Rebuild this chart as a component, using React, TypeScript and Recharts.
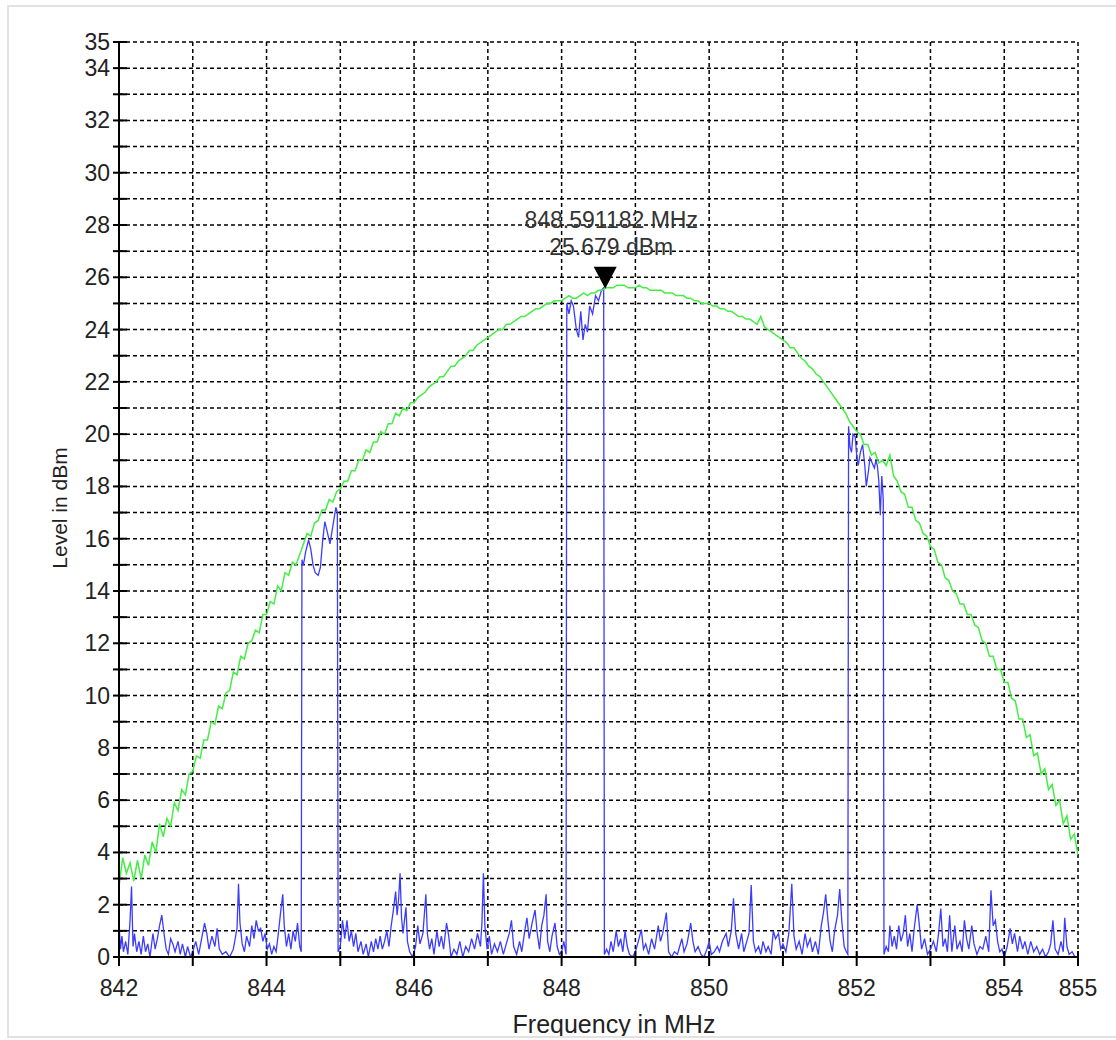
import React from "react";
import { CartesianGrid, Line, LineChart, ReferenceDot, XAxis, YAxis } from "recharts";

// axis ticks (every unit gets a tick + grid line, only some get a label)
const xTicks = [842, 843, 844, 845, 846, 847, 848, 849, 850, 851, 852, 853, 854, 855];
const xLabels = [842, 844, 846, 848, 850, 852, 854, 855];
const yTicks = [0, 1, 2, 3, 4, 5, 6, 7, 8, 9, 10, 11, 12, 13, 14, 15, 16, 17, 18, 19, 20, 21, 22, 23, 24, 25, 26, 27, 28, 29, 30, 31, 32, 33, 34, 35];
const yLabels = [0, 2, 4, 6, 8, 10, 12, 14, 16, 18, 20, 22, 24, 26, 28, 30, 32, 34, 35];

// max-hold trace (green), sampled every 0.05 MHz from 842 MHz (one row per MHz)
const GREEN_START = 842;
const GREEN_STEP = 0.05;
const greenLevel = [
  2.7, 3.8, 3.2, 3.6, 2.9, 3.7, 3.0, 3.9, 3.5, 4.4, 4.0, 5.1, 4.6, 5.3, 5.0, 5.9, 5.6, 6.4, 6.2, 7.0,
  7.1, 7.7, 7.6, 8.3, 8.3, 9.0, 8.9, 9.6, 9.5, 10.1, 10.2, 10.9, 10.8, 11.5, 11.4, 12.0, 12.1, 12.5, 12.4, 13.1,
  13.1, 13.6, 13.5, 14.2, 14.0, 14.7, 14.6, 15.1, 15.0, 15.4, 15.8, 16.2, 16.1, 16.6, 16.7, 17.1, 17.1, 17.5, 17.4, 17.8,
  17.9, 18.2, 18.2, 18.6, 18.6, 19.0, 19.0, 19.4, 19.3, 19.7, 19.7, 20.1, 20.0, 20.4, 20.4, 20.8, 20.7, 21.0, 20.9, 21.2,
  21.2, 21.4, 21.5, 21.6, 21.8, 21.9, 22.0, 22.2, 22.2, 22.4, 22.6, 22.6, 22.8, 22.9, 23.0, 23.2, 23.2, 23.4, 23.5, 23.6,
  23.7, 23.8, 23.9, 24.0, 24.0, 24.2, 24.2, 24.3, 24.4, 24.5, 24.5, 24.6, 24.7, 24.8, 24.8, 24.9, 25.0, 25.0, 25.1, 25.1,
  25.1, 25.2, 25.3, 25.2, 25.2, 25.3, 25.4, 25.3, 25.4, 25.4, 25.5, 25.5, 25.6, 25.6, 25.6, 25.7, 25.7, 25.7, 25.6, 25.6,
  25.6, 25.7, 25.6, 25.6, 25.5, 25.5, 25.5, 25.5, 25.4, 25.4, 25.4, 25.3, 25.3, 25.3, 25.2, 25.2, 25.1, 25.1, 25.0, 25.0,
  25.0, 24.9, 24.9, 24.8, 24.8, 24.7, 24.7, 24.6, 24.5, 24.5, 24.4, 24.4, 24.3, 24.2, 24.5, 24.1, 24.0, 23.9, 23.8, 23.7,
  23.6, 23.5, 23.3, 23.3, 23.1, 22.9, 22.8, 22.6, 22.5, 22.3, 22.2, 22.0, 21.8, 21.6, 21.4, 21.2, 21.0, 20.8, 20.5, 20.3,
  20.1, 20.0, 19.6, 19.6, 19.2, 19.3, 18.9, 19.0, 18.8, 19.2, 18.4, 18.2, 17.8, 17.7, 17.2, 17.2, 16.7, 16.6, 16.2, 16.1,
  15.7, 15.6, 15.1, 15.0, 14.5, 14.4, 14.0, 13.9, 13.5, 13.5, 13.1, 13.1, 12.7, 12.6, 12.1, 12.0, 11.5, 11.5, 11.0, 11.0,
  10.5, 10.5, 9.9, 9.8, 9.1, 9.1, 8.4, 8.5, 7.7, 7.8, 7.0, 7.2, 6.4, 6.6, 5.8, 6.0, 5.1, 5.4, 4.5, 4.7,
  3.9,
];

// clear-write trace (blue): [MHz, dBm]
const noise1: [number, number][] = [
  [842.0, 1.3], [842.02, 0.3], [842.04, 0.8], [842.06, 0.2], [842.09, 0.6], [842.12, 0.1], [842.15, 1.4], [842.17, 2.7],
  [842.19, 0.4], [842.21, 0.9], [842.24, 0.2], [842.27, 0.6], [842.3, 0.1], [842.33, 0.8], [842.36, 0.2], [842.39, 0.5],
  [842.42, 0.0], [842.46, 0.9], [842.49, 0.3], [842.52, 0.7], [842.55, 1.2], [842.58, 1.6], [842.61, 0.9], [842.64, 0.3],
  [842.67, 0.1], [842.7, 0.7], [842.73, 0.5], [842.76, 0.2], [842.8, 0.6], [842.83, 0.1], [842.86, 0.5], [842.9, 0.0],
  [842.93, 0.4], [842.97, 0.0], [843.0, 0.2], [843.04, 0.6], [843.08, 0.1], [843.12, 0.7], [843.16, 1.3], [843.19, 0.9],
  [843.22, 0.3], [843.26, 0.8], [843.3, 0.4], [843.33, 1.1], [843.36, 0.3], [843.4, 0.1], [843.45, 0.2], [843.5, 0.0],
  [843.55, 0.3], [843.6, 1.1], [843.62, 2.8], [843.64, 1.3], [843.67, 0.5], [843.7, 0.2], [843.73, 0.8], [843.77, 0.4],
  [843.8, 1.2], [843.83, 0.7], [843.86, 1.4], [843.89, 1.0], [843.92, 1.1], [843.95, 0.6], [843.98, 0.9], [844.01, 0.3],
  [844.04, 0.5], [844.07, 0.1], [844.1, 0.4], [844.13, 0.2], [844.16, 0.9], [844.19, 1.7], [844.22, 2.4], [844.24, 1.2],
  [844.27, 0.4], [844.3, 0.9], [844.33, 0.3], [844.36, 1.0], [844.39, 0.6], [844.42, 1.3], [844.45, 0.4], [844.47, 0.2],
];
const carrier1: [number, number][] = [
  [844.48, 15.2], [844.5, 15.0], [844.53, 15.5], [844.57, 15.95], [844.6, 15.6], [844.63, 15.0], [844.66, 14.7],
  [844.7, 14.6], [844.73, 14.9], [844.76, 15.9], [844.79, 16.65], [844.82, 16.3], [844.86, 15.8], [844.9, 16.5],
  [844.94, 17.2], [844.96, 17.0],
];
const noise2: [number, number][] = [
  [844.97, 0.2], [845.0, 0.4], [845.03, 1.4], [845.06, 0.7], [845.09, 1.4], [845.12, 0.6], [845.15, 1.0], [845.18, 0.4],
  [845.21, 0.9], [845.24, 0.2], [845.28, 0.6], [845.31, 0.1], [845.35, 0.5], [845.38, 0.0], [845.42, 0.6], [845.45, 0.2],
  [845.48, 0.7], [845.51, 0.3], [845.54, 0.8], [845.57, 0.3], [845.6, 0.6], [845.63, 1.0], [845.66, 0.4], [845.69, 1.2],
  [845.72, 1.8], [845.75, 2.5], [845.77, 1.6], [845.79, 2.2], [845.81, 3.2], [845.83, 1.5], [845.85, 0.9], [845.87, 1.4],
  [845.89, 1.9], [845.91, 0.6], [845.94, 0.2], [845.98, 0.0], [846.02, 0.4], [846.05, 1.2], [846.08, 0.5], [846.12, 0.9],
  [846.16, 2.4], [846.18, 0.9], [846.21, 0.3], [846.24, 0.7], [846.27, 0.1], [846.31, 1.0], [846.34, 0.4], [846.37, 0.8],
  [846.4, 0.3], [846.44, 1.3], [846.47, 0.8], [846.5, 0.0], [846.54, 0.3], [846.58, 0.1], [846.62, 0.6], [846.66, 0.0],
  [846.7, 0.4], [846.74, 0.2], [846.78, 0.7], [846.82, 0.3], [846.86, 0.9], [846.9, 0.4], [846.92, 1.3], [846.94, 3.2],
  [846.96, 1.2], [846.99, 0.3], [847.02, 0.8], [847.05, 0.1], [847.09, 0.5], [847.13, 0.2], [847.17, 0.6], [847.21, 0.1],
  [847.25, 0.5], [847.29, 0.9], [847.32, 1.4], [847.35, 0.4], [847.39, 0.1], [847.43, 0.6], [847.46, 0.2], [847.5, 1.0],
  [847.53, 1.5], [847.56, 0.7], [847.6, 1.3], [847.64, 1.8], [847.67, 0.9], [847.7, 0.3], [847.73, 1.2], [847.76, 1.6],
  [847.79, 2.4], [847.81, 0.6], [847.84, 0.2], [847.87, 0.8], [847.91, 1.3], [847.94, 0.4], [847.97, 0.1], [848.0, 0.2],
  [848.03, 0.6], [848.06, 0.1],
];
const carrier2: [number, number][] = [
  [848.07, 25.0], [848.1, 24.6], [848.13, 25.1], [848.16, 24.9], [848.2, 24.0], [848.23, 23.7], [848.26, 24.7],
  [848.29, 23.6], [848.32, 24.2], [848.35, 23.9], [848.38, 24.9], [848.42, 24.6], [848.46, 25.3], [848.5, 25.1],
  [848.54, 25.5], [848.57, 25.6],
];
const noise3: [number, number][] = [
  [848.58, 0.1], [848.61, 0.3], [848.64, 0.1], [848.67, 0.6], [848.7, 0.2], [848.74, 1.0], [848.77, 0.4], [848.8, 0.7],
  [848.83, 0.2], [848.86, 1.0], [848.89, 0.4], [848.92, 0.1], [848.96, 0.0], [849.0, 0.2], [849.04, 0.6], [849.08, 1.05],
  [849.11, 0.3], [849.14, 0.5], [849.18, 0.1], [849.22, 0.7], [849.26, 0.3], [849.31, 1.2], [849.34, 0.6], [849.37, 0.9],
  [849.42, 1.7], [849.45, 0.2], [849.49, 0.0], [849.53, 0.2], [849.57, 0.1], [849.6, 0.4], [849.63, 0.7], [849.66, 0.2],
  [849.7, 0.5], [849.75, 1.3], [849.78, 0.6], [849.81, 0.2], [849.85, 0.4], [849.89, 0.1], [849.93, 0.0], [849.97, 0.3],
  [850.0, 0.6], [850.03, 0.1], [850.07, 0.2], [850.11, 0.4], [850.14, 0.2], [850.18, 0.6], [850.23, 0.9], [850.26, 0.4],
  [850.3, 1.0], [850.33, 2.25], [850.36, 0.9], [850.4, 0.3], [850.44, 0.9], [850.47, 0.2], [850.51, 0.6], [850.54, 0.9],
  [850.57, 2.75], [850.6, 0.6], [850.63, 0.2], [850.67, 0.4], [850.7, 0.1], [850.73, 0.6], [850.77, 0.2], [850.8, 0.4],
  [850.84, 0.1], [850.87, 1.0], [850.9, 0.7], [850.94, 0.9], [850.97, 0.3], [851.0, 0.5], [851.04, 0.2], [851.08, 0.9],
  [851.12, 2.8], [851.15, 0.8], [851.18, 0.3], [851.22, 0.6], [851.26, 0.1], [851.3, 0.9], [851.33, 0.4], [851.37, 0.7],
  [851.4, 0.2], [851.44, 0.6], [851.48, 0.1], [851.52, 1.2], [851.55, 1.7], [851.58, 2.4], [851.61, 1.4], [851.64, 0.6],
  [851.67, 0.2], [851.7, 1.0], [851.74, 1.6], [851.77, 2.6], [851.8, 1.3], [851.83, 0.4], [851.86, 0.2], [851.88, 0.1],
];
const carrier3: [number, number][] = [
  [851.89, 20.3], [851.91, 19.5], [851.93, 19.3], [851.95, 20.0], [851.98, 19.9], [852.0, 19.2], [852.02, 18.8],
  [852.05, 19.3], [852.08, 19.6], [852.11, 18.8], [852.13, 18.0], [852.16, 18.6], [852.18, 19.1], [852.21, 18.9],
  [852.24, 18.7], [852.26, 19.0], [852.28, 18.8], [852.3, 18.2], [852.32, 16.9], [852.34, 18.4], [852.36, 17.5],
];
const noise4: [number, number][] = [
  [852.37, 0.1], [852.4, 0.4], [852.43, 0.2], [852.45, 1.2], [852.48, 0.4], [852.51, 0.8], [852.54, 0.3], [852.57, 1.2],
  [852.6, 0.6], [852.63, 0.9], [852.66, 1.6], [852.69, 0.4], [852.72, 0.9], [852.75, 0.2], [852.78, 1.1], [852.82, 2.0],
  [852.85, 1.2], [852.88, 0.3], [852.92, 0.7], [852.96, 0.1], [853.0, 0.3], [853.04, 0.6], [853.08, 0.2], [853.11, 0.9],
  [853.14, 1.85], [853.17, 0.4], [853.2, 0.7], [853.23, 0.2], [853.26, 1.6], [853.29, 0.2], [853.33, 1.2], [853.36, 0.3],
  [853.4, 0.6], [853.43, 0.2], [853.46, 1.4], [853.49, 0.7], [853.52, 0.3], [853.56, 1.2], [853.59, 0.5], [853.63, 0.1],
  [853.67, 0.4], [853.71, 0.3], [853.75, 0.8], [853.79, 0.2], [853.82, 2.55], [853.85, 1.2], [853.88, 1.4], [853.91, 0.6],
  [853.94, 0.2], [853.97, 0.3], [854.0, 0.0], [854.04, 0.4], [854.08, 1.1], [854.11, 0.5], [854.14, 0.9], [854.18, 0.2],
  [854.21, 0.8], [854.25, 0.3], [854.28, 0.6], [854.32, 0.1], [854.36, 0.6], [854.4, 0.2], [854.44, 0.4], [854.48, 0.1],
  [854.52, 0.3], [854.56, 0.0], [854.6, 0.2], [854.63, 0.5], [854.66, 1.4], [854.69, 0.3], [854.73, 0.1], [854.77, 0.6],
  [854.8, 0.2], [854.82, 1.5], [854.85, 0.4], [854.88, 0.1], [854.92, 0.2], [854.96, 0.0], [855.0, 0.0],
];

const markerFreq = 848.591182;
const markerLevel = 25.679;

const FONT = '"Liberation Sans", Arial, sans-serif';

const greenData = greenLevel.map((v, i) => ({ f: +(GREEN_START + i * GREEN_STEP).toFixed(2), v }));
const blueData = [...noise1, ...carrier1, ...noise2, ...carrier2, ...noise3, ...carrier3, ...noise4].map(([f, v]) => ({ f, v }));

function YTick({ x, y, payload }: any) {
  const v = payload.value;
  return (
    <g>
      <line x1={x - 6} x2={x + 8} y1={y} y2={y} stroke="#000" strokeWidth={2} />
      {yLabels.includes(v) && (
        <text x={x - 9} y={y + 8} textAnchor="end" fontSize={23} fill="#222" fontFamily={FONT}>
          {v}
        </text>
      )}
    </g>
  );
}

function XTick({ x, y, payload }: any) {
  const v = payload.value;
  return (
    <g>
      <line x1={x} x2={x} y1={y - 6} y2={y + 9} stroke="#000" strokeWidth={2} />
      {xLabels.includes(v) && (
        <text x={x} y={y + 39} textAnchor="middle" fontSize={23} fill="#222" fontFamily={FONT}>
          {v}
        </text>
      )}
    </g>
  );
}

function Marker({ cx, cy }: any) {
  return (
    <g>
      <text x={cx + 6} y={cy - 58} textAnchor="middle" fontSize={23} fill="#333" fontFamily={FONT}>
        {markerFreq.toFixed(6)} MHz
      </text>
      <text x={cx + 6} y={cy - 31} textAnchor="middle" fontSize={23} fill="#333" fontFamily={FONT}>
        {markerLevel.toFixed(3)} dBm
      </text>
      <polygon points={`${cx - 11.5},${cy - 19} ${cx + 11.5},${cy - 19} ${cx},${cy + 3}`} fill="#000" />
    </g>
  );
}

export default function App() {
  return (
    <div style={{ position: "absolute", left: 0, top: 0, width: 1116, height: 1040, overflow: "hidden", background: "#fff" }}>
      <div
        style={{
          position: "absolute", left: 7, top: 5, width: 1120, height: 1029, overflow: "hidden",
          borderLeft: "2px solid #e2e2e2", borderTop: "2px solid #e2e2e2", borderBottom: "2px solid #e2e2e2",
        }}
      >
        <div style={{ position: "absolute", left: -9, top: -7, width: 1116, height: 1040 }}>
          <LineChart width={1116} height={1040} margin={{ top: 42, right: 38, bottom: 43, left: 59 }}>
            <CartesianGrid stroke="#000" strokeWidth={1.5} strokeDasharray="4 3" />
            <XAxis
              type="number" dataKey="f" domain={[842, 855]} ticks={xTicks} interval={0} height={40}
              tickSize={0} tickMargin={0} tickLine={false} axisLine={{ stroke: "#000", strokeWidth: 2 }}
              tick={<XTick />} allowDataOverflow
            />
            <YAxis
              type="number" domain={[0, 35]} ticks={yTicks} interval={0} width={60}
              tickSize={0} tickMargin={0} tickLine={false} axisLine={{ stroke: "#000", strokeWidth: 2 }}
              tick={<YTick />} allowDataOverflow
            />
            <Line data={blueData} dataKey="v" type="linear" stroke="#3c3cff" strokeWidth={1.3} dot={false} isAnimationActive={false} />
            <Line data={greenData} dataKey="v" type="linear" stroke="#44ee44" strokeWidth={1.5} dot={false} isAnimationActive={false} />
            <ReferenceDot x={markerFreq} y={markerLevel} r={0} shape={<Marker />} />
          </LineChart>
          <svg width={1116} height={1040} style={{ position: "absolute", left: 0, top: 0, pointerEvents: "none" }}>
            <text x={614} y={1033} textAnchor="middle" fontSize={25} fill="#222" fontFamily={FONT}>
              Frequency in MHz
            </text>
            <text x={67} y={508} transform="rotate(-90 67 508)" textAnchor="middle" fontSize={21} fill="#222" fontFamily={FONT}>
              Level in dBm
            </text>
          </svg>
        </div>
      </div>
    </div>
  );
}
